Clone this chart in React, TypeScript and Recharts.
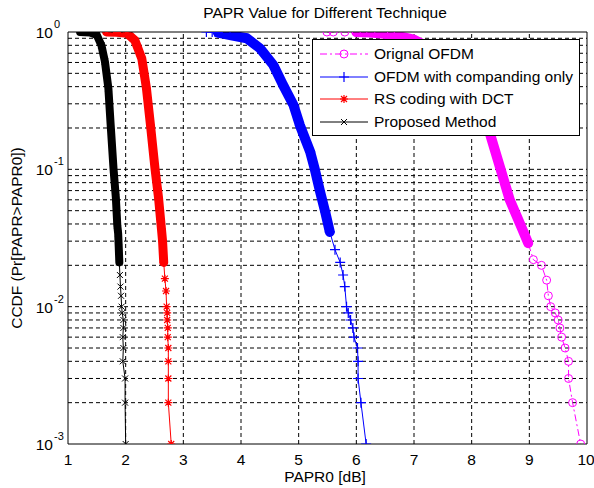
import { Line, LineChart, ReferenceLine, XAxis, YAxis } from "recharts";

// axis ticks
const xTicks = [1, 2, 3, 4, 5, 6, 7, 8, 9, 10];
const yTicks = [0.001, 0.01, 0.1, 1];
const decades = [0.001, 0.01, 0.1];
const minorSteps = [1, 2, 3, 4, 5, 6, 7, 8, 9];

// Orignal OFDM
const origX = [5.49, 5.6, 5.8, 6.0, 6.25, 6.6, 7.0, 7.4, 7.8, 8.1, 8.32, 8.49, 8.66, 8.84, 8.98, 9.07, 9.21, 9.3, 9.33, 9.37, 9.45, 9.5, 9.53, 9.56, 9.62, 9.68, 9.68, 9.75, 9.89];
const origP = [1, 1, 0.999, 0.998, 0.99, 0.96, 0.88, 0.72, 0.48, 0.3, 0.18, 0.104, 0.06, 0.04, 0.029, 0.022, 0.02, 0.0156, 0.012, 0.01, 0.009, 0.008, 0.007, 0.006, 0.005, 0.004, 0.003, 0.002, 0.001];

// OFDM with companding only
const compX = [3.4, 3.5, 3.55, 3.6, 3.81, 4.1, 4.33, 4.56, 4.73, 4.91, 5.02, 5.2, 5.28, 5.37, 5.46, 5.54, 5.63, 5.72, 5.77, 5.8, 5.83, 5.86, 5.9, 5.94, 5.96, 6.02, 6.03, 6.03, 6.08, 6.17];
const compP = [1, 1, 0.999, 0.99, 0.95, 0.9, 0.76, 0.575, 0.41, 0.294, 0.21, 0.134, 0.1, 0.069, 0.049, 0.035, 0.026, 0.021, 0.017, 0.014, 0.01, 0.009, 0.008, 0.007, 0.006, 0.005, 0.004, 0.003, 0.002, 0.001];

// RS coding with DCT
const rsX = [1.67, 1.85, 2.02, 2.16, 2.28, 2.36, 2.43, 2.51, 2.57, 2.62, 2.64, 2.66, 2.68, 2.7, 2.71, 2.72, 2.72, 2.73, 2.73, 2.74, 2.74, 2.74, 2.74, 2.79];
const rsP = [1, 0.995, 0.98, 0.87, 0.64, 0.39, 0.21, 0.1, 0.062, 0.037, 0.03, 0.021, 0.016, 0.013, 0.01, 0.009, 0.008, 0.007, 0.006, 0.005, 0.004, 0.003, 0.002, 0.001];

// Proposed Method
const propX = [1.21, 1.38, 1.5, 1.58, 1.64, 1.7, 1.74, 1.79, 1.83, 1.855, 1.87, 1.88, 1.89, 1.9, 1.91, 1.92, 1.93, 1.94, 1.96, 1.96, 1.95, 1.96, 1.95, 1.99, 1.99, 2.0];
const propP = [1, 0.99, 0.95, 0.8, 0.61, 0.39, 0.21, 0.1, 0.062, 0.039, 0.034, 0.027, 0.021, 0.017, 0.014, 0.012, 0.01, 0.009, 0.008, 0.007, 0.006, 0.005, 0.004, 0.003, 0.002, 0.001];

const toRows = (xs: number[], ps: number[]) => xs.map((x, i) => ({ x, p: ps[i] }));

const origData = toRows(origX, origP);
const compData = toRows(compX, compP);
const rsData = toRows(rsX, rsP);
const propData = toRows(propX, propP);

// the dense part where markers overlap into a thick band
const origBand = origData.filter((d) => d.x >= 6.0 && d.p >= 0.025);
const compBand = compData.filter((d) => d.x >= 3.6 && d.p >= 0.03);
const rsBand = rsData.filter((d) => d.p >= 0.02);
const propBand = propData.filter((d) => d.p >= 0.02);

const gridY: number[] = [];
decades.forEach((d) => minorSteps.forEach((m) => gridY.push(+(d * m).toPrecision(3))));
const hGrid = gridY.filter((v) => v > 0.001 && v < 1);
const vGrid = xTicks.filter((v) => v > 1 && v < 10);

const MAGENTA = "#ff00ff";
const BLUE = "#0000ff";
const RED = "#ff0000";
const BLACK = "#000000";
const FONT = "'Liberation Sans', Arial, sans-serif";
const FS = 15.5;

const CircleDot = (props: any) => {
  const { cx, cy, index } = props;
  if (cx == null || cy == null) return <g key={index} />;
  return <circle key={index} cx={cx} cy={cy} r={4} fill="none" stroke={MAGENTA} strokeWidth={1} />;
};

const PlusDot = (props: any) => {
  const { cx, cy, index } = props;
  if (cx == null || cy == null) return <g key={index} />;
  return <path key={index} d={`M${cx - 5},${cy}H${cx + 5}M${cx},${cy - 5}V${cy + 5}`} stroke={BLUE} strokeWidth={1.2} />;
};

const StarDot = (props: any) => {
  const { cx, cy, index } = props;
  if (cx == null || cy == null) return <g key={index} />;
  const s = 4;
  const d = 3;
  return (
    <path
      key={index}
      d={`M${cx - s},${cy}H${cx + s}M${cx},${cy - s}V${cy + s}M${cx - d},${cy - d}L${cx + d},${cy + d}M${cx - d},${cy + d}L${cx + d},${cy - d}`}
      stroke={RED}
      strokeWidth={1.2}
    />
  );
};

const CrossDot = (props: any) => {
  const { cx, cy, index } = props;
  if (cx == null || cy == null) return <g key={index} />;
  const d = 3;
  return <path key={index} d={`M${cx - d},${cy - d}L${cx + d},${cy + d}M${cx - d},${cy + d}L${cx + d},${cy - d}`} stroke={BLACK} strokeWidth={1} />;
};

const XTick = (props: any) => {
  const { x, payload } = props;
  return (
    <text x={x} y={465} textAnchor="middle" fontSize={FS} fontFamily={FONT} fill="#000">
      {payload.value}
    </text>
  );
};

const YTick = (props: any) => {
  const { y, payload } = props;
  const exp = Math.round(Math.log10(payload.value));
  return (
    <g>
      <text x={53} y={y + 6} textAnchor="end" fontSize={FS} fontFamily={FONT} fill="#000">
        10
      </text>
      <text x={54} y={y - 4} textAnchor="start" fontSize={11} fontFamily={FONT} fill="#000">
        {exp}
      </text>
    </g>
  );
};

const legendItems = [
  { name: "Orignal OFDM", color: MAGENTA, dash: "7 3 2 3", mark: "o" },
  { name: "OFDM with companding only", color: BLUE, dash: undefined, mark: "+" },
  { name: "RS coding with DCT", color: RED, dash: undefined, mark: "*" },
  { name: "Proposed Method", color: BLACK, dash: undefined, mark: "x" },
];

function LegendMark({ color, mark }: { color: string; mark: string }) {
  const cx = 24;
  const cy = 6;
  if (mark === "o") return <circle cx={cx} cy={cy} r={4} fill="none" stroke={color} />;
  if (mark === "+") return <path d={`M${cx - 5},${cy}H${cx + 5}M${cx},${cy - 5}V${cy + 5}`} stroke={color} strokeWidth={1.2} />;
  if (mark === "*")
    return <path d={`M${cx - 4},${cy}H${cx + 4}M${cx},${cy - 4}V${cy + 4}M${cx - 3},${cy - 3}L${cx + 3},${cy + 3}M${cx - 3},${cy + 3}L${cx + 3},${cy - 3}`} stroke={color} strokeWidth={1.2} />;
  return <path d={`M${cx - 3},${cy - 3}L${cx + 3},${cy + 3}M${cx - 3},${cy + 3}L${cx + 3},${cy - 3}`} stroke={color} />;
}

export default function App() {
  return (
    <div style={{ position: "absolute", left: 0, top: 0, width: 594, height: 488, background: "#fff", fontFamily: FONT }}>
      <LineChart width={594} height={488} margin={{ top: 32, right: 7, left: 0, bottom: 0 }}>
        <XAxis
          dataKey="x"
          type="number"
          domain={[1, 10]}
          ticks={xTicks}
          tick={<XTick />}
          tickLine={false}
          axisLine={false}
          height={44}
          allowDataOverflow
        />
        <YAxis
          type="number"
          scale="log"
          domain={[0.001, 1]}
          ticks={yTicks}
          tick={<YTick />}
          tickLine={false}
          axisLine={false}
          width={68}
          allowDataOverflow
        />
        {hGrid.map((v) => (
          <ReferenceLine key={`h${v}`} y={v} stroke="#000" strokeWidth={1} strokeDasharray="4 3" />
        ))}
        {vGrid.map((v) => (
          <ReferenceLine key={`v${v}`} x={v} stroke="#000" strokeWidth={1} strokeDasharray="4 3" />
        ))}

        <Line data={origBand} dataKey="p" stroke={MAGENTA} strokeWidth={10} strokeLinecap="round" strokeLinejoin="round" dot={false} isAnimationActive={false} legendType="none" />
        <Line data={origData} dataKey="p" stroke={MAGENTA} strokeWidth={1} strokeDasharray="7 3 2 3" dot={CircleDot} isAnimationActive={false} />

        <Line data={compBand} dataKey="p" stroke={BLUE} strokeWidth={10} strokeLinecap="round" strokeLinejoin="round" dot={false} isAnimationActive={false} legendType="none" />
        <Line data={compData} dataKey="p" stroke={BLUE} strokeWidth={1} dot={PlusDot} isAnimationActive={false} />

        <Line data={rsBand} dataKey="p" stroke={RED} strokeWidth={9} strokeLinecap="round" strokeLinejoin="round" dot={false} isAnimationActive={false} legendType="none" />
        <Line data={rsData} dataKey="p" stroke={RED} strokeWidth={1} dot={StarDot} isAnimationActive={false} />

        <Line data={propBand} dataKey="p" stroke={BLACK} strokeWidth={8} strokeLinecap="round" strokeLinejoin="round" dot={false} isAnimationActive={false} legendType="none" />
        <Line data={propData} dataKey="p" stroke={BLACK} strokeWidth={1} dot={CrossDot} isAnimationActive={false} />

        <ReferenceLine x={1} stroke="#000" strokeWidth={1} />
        <ReferenceLine x={10} stroke="#000" strokeWidth={1} />
        <ReferenceLine y={1} stroke="#000" strokeWidth={1} />
        <ReferenceLine y={0.001} stroke="#000" strokeWidth={1} />
      </LineChart>

      <div style={{ position: "absolute", left: 0, width: 650, top: 4, textAlign: "center", fontSize: FS, color: "#000" }}>
        PAPR Value for Different Technique
      </div>
      <div style={{ position: "absolute", left: 0, width: 650, top: 468, textAlign: "center", fontSize: FS, color: "#000" }}>
        PAPR0 [dB]
      </div>
      <div
        style={{
          position: "absolute",
          left: 17,
          top: 238,
          transform: "translate(-50%, -50%) rotate(-90deg)",
          whiteSpace: "nowrap",
          fontSize: FS,
          color: "#000",
        }}
      >
        CCDF (Pr[PAPR&gt;PAPR0])
      </div>

      <div
        style={{
          position: "absolute",
          left: 312,
          top: 39,
          width: 268,
          height: 97,
          background: "#fff",
          border: "1px solid #000",
          boxSizing: "border-box",
        }}
      >
        {legendItems.map((it, i) => (
          <div key={it.name} style={{ position: "absolute", left: 7, top: 6 + i * 22.7, height: 16, display: "flex", alignItems: "center" }}>
            <svg width={48} height={12} style={{ marginRight: 6 }}>
              <line x1={0} y1={6} x2={48} y2={6} stroke={it.color} strokeWidth={1} strokeDasharray={it.dash} />
              <LegendMark color={it.color} mark={it.mark} />
            </svg>
            <span style={{ fontSize: FS, color: "#000", whiteSpace: "nowrap" }}>{it.name}</span>
          </div>
        ))}
      </div>
    </div>
  );
}
